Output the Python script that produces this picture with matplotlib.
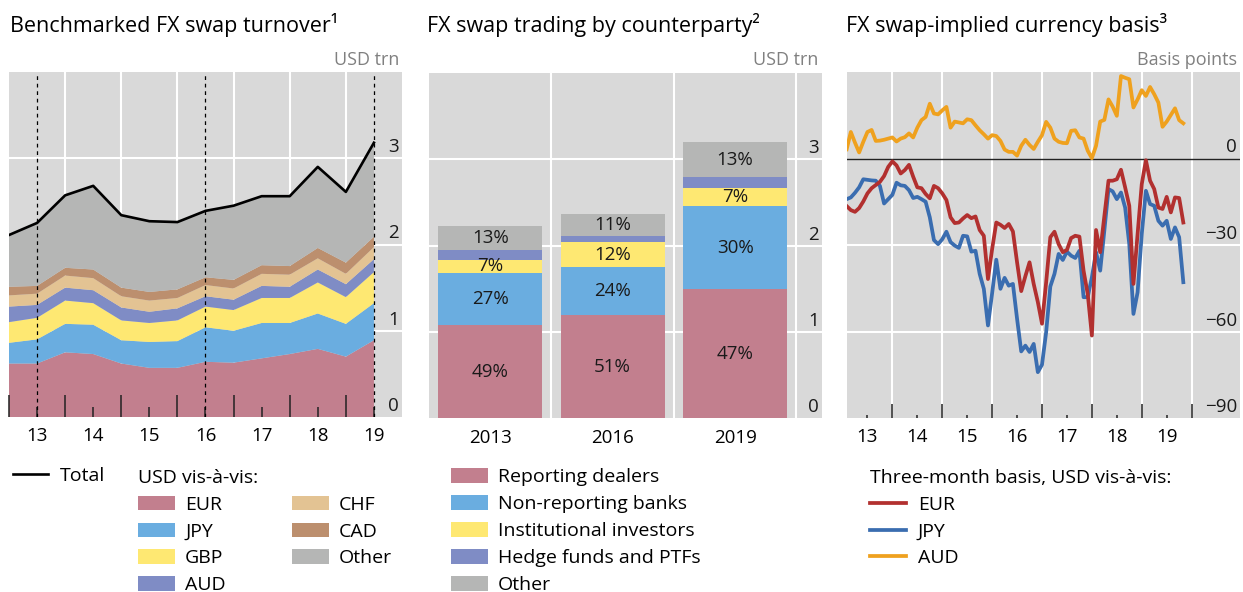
import numpy as np
import pandas as pd
import matplotlib
matplotlib.use("Agg")
import matplotlib.pyplot as plt
import matplotlib.transforms as mtransforms

plt.rcParams['font.family'] = ['Open Sans', 'DejaVu Sans']

# --- panel 1: benchmarked FX swap turnover, USD trn (semi-annual) ---
periods = [2012.5, 2013.0, 2013.5, 2014.0, 2014.5, 2015.0, 2015.5,
           2016.0, 2016.5, 2017.0, 2017.5, 2018.0, 2018.5, 2019.0]
eur = [0.62, 0.62, 0.75, 0.73, 0.62, 0.57, 0.57, 0.64, 0.63, 0.68, 0.73, 0.79, 0.70, 0.89]
jpy = [0.24, 0.28, 0.33, 0.34, 0.27, 0.30, 0.31, 0.40, 0.37, 0.41, 0.36, 0.41, 0.38, 0.43]
gbp = [0.24, 0.25, 0.27, 0.25, 0.23, 0.22, 0.24, 0.24, 0.24, 0.29, 0.29, 0.36, 0.31, 0.36]
aud = [0.18, 0.15, 0.15, 0.15, 0.15, 0.13, 0.14, 0.12, 0.12, 0.14, 0.13, 0.15, 0.15, 0.15]
chf = [0.13, 0.13, 0.14, 0.14, 0.13, 0.13, 0.12, 0.13, 0.13, 0.14, 0.14, 0.13, 0.12, 0.14]
cad = [0.10, 0.09, 0.09, 0.10, 0.10, 0.10, 0.10, 0.09, 0.10, 0.10, 0.10, 0.12, 0.13, 0.12]
other = [0.60, 0.73, 0.84, 0.97, 0.84, 0.82, 0.78, 0.77, 0.86, 0.80, 0.81, 0.94, 0.82, 1.09]
year_ticks = [2013, 2014, 2015, 2016, 2017, 2018, 2019]
year_labels = ['13', '14', '15', '16', '17', '18', '19']

# --- panel 2: FX swap trading by counterparty, USD trn ---
surveys = ['2013', '2016', '2019']
dealers = [1.075, 1.19, 1.49]
nonrep = [0.61, 0.565, 0.97]
inst = [0.15, 0.28, 0.21]
hedge = [0.11, 0.07, 0.125]
other_cp = [0.285, 0.265, 0.40]
dealers_pct = ['49%', '51%', '47%']
nonrep_pct = ['27%', '24%', '30%']
inst_pct = ['7%', '12%', '7%']
hedge_pct = ['', '', '']
other_pct = ['13%', '11%', '13%']

# --- panel 3: three-month basis, bp (monthly, Feb 2013 - Nov 2019) ---
months = pd.date_range('2013-02-01', '2019-11-01', freq='MS')
eur_basis = [-16.5, -17.9, -18.5, -17.2, -14.9, -12.1, -10.3, -9.2, -8.1, -6.1,
             -2.9, -1.0, -2.4, -5.2, -4.0, -2.2, -6.3, -10.0, -10.3, -12.3,
             -13.8, -9.5, -10.3, -12.1, -14.4, -20.4, -22.4, -22.2, -20.8, -19.6,
             -20.7, -20.1, -24.8, -26.8, -41.8, -31.4, -22.2, -23.0, -24.1, -22.7,
             -25.3, -36.0, -46.0, -40.8, -36.0, -43.5, -49.8, -57.3, -42.9, -27.3,
             -25.4, -29.7, -32.5, -31.7, -27.6, -26.8, -27.1, -38.9, -47.0, -61.4,
             -24.8, -32.5, -20.0, -7.7, -7.7, -7.2, -3.9, -10.0, -16.4, -43.5,
             -26.2, -8.9, -0.6, -7.7, -10.6, -17.0, -17.5, -13.3, -18.7, -13.5,
             -13.7, -22.2]
jpy_basis = [-14.1, -13.5, -11.9, -10.0, -7.2, -7.4, -7.6, -7.7, -9.5, -15.6,
             -14.1, -12.6, -8.4, -9.3, -9.5, -11.0, -13.7, -13.3, -14.1, -15.0,
             -20.4, -28.3, -29.7, -28.0, -25.4, -29.0, -30.2, -31.0, -26.8, -27.0,
             -32.3, -32.0, -40.0, -45.2, -57.9, -46.7, -35.1, -45.2, -41.4, -44.1,
             -43.5, -55.6, -66.9, -64.9, -67.1, -64.3, -74.1, -71.5, -60.2, -44.4,
             -40.0, -33.1, -35.2, -32.3, -33.7, -34.5, -32.0, -48.1, -48.1, -41.2,
             -32.5, -38.9, -25.0, -10.6, -11.4, -14.1, -11.8, -17.0, -29.7, -53.9,
             -46.4, -26.2, -11.2, -15.8, -16.4, -21.6, -23.3, -21.6, -27.9, -23.9,
             -27.3, -42.9]
aud_basis = [3.2, 9.2, 5.5, 2.1, 5.8, 9.2, 9.9, 6.1, 6.2, 6.5,
             6.9, 7.3, 5.9, 6.9, 7.4, 8.7, 7.3, 10.7, 13.3, 14.4,
             19.0, 15.6, 15.3, 16.7, 17.9, 10.7, 12.8, 12.5, 12.2, 13.6,
             13.3, 11.5, 9.8, 8.4, 6.9, 8.1, 7.8, 6.1, 3.1, 2.3,
             2.3, 1.0, 4.4, 6.5, 4.7, 3.3, 5.8, 8.1, 12.7, 10.7,
             6.9, 5.8, 5.4, 5.3, 9.6, 9.8, 7.3, 6.9, 2.7, 0.1,
             4.4, 12.8, 13.4, 20.5, 18.0, 14.8, 28.6, 28.0, 27.5, 17.7,
             20.5, 23.7, 21.7, 24.8, 22.3, 19.4, 11.0, 12.8, 15.1, 17.4,
             13.3, 12.2]
basis_ticks = [2013.5, 2014.5, 2015.5, 2016.5, 2017.5, 2018.5, 2019.5]

bg = '#D9D9D9'
c_pink = '#C27F8E'
c_blue = '#6AADE0'
c_yellow = '#FEE872'
c_purple = '#7F8CC5'
c_tan = '#E3C393'
c_brown = '#BC8F6E'
c_grey = '#B5B6B5'
fs = 13.5
lfs = 14

W, H = 1243, 592
fig = plt.figure(figsize=(W / 100, H / 100), dpi=100)


def px_axes(x0, y0, x1, y1):
    ax = fig.add_axes([x0 / W, 1 - y1 / H, (x1 - x0) / W, (y1 - y0) / H])
    ax.set_facecolor(bg)
    for s in ax.spines.values():
        s.set_visible(False)
    return ax


def right_labels(ax, vals, texts):
    tr = mtransforms.blended_transform_factory(ax.transAxes, ax.transData)
    tr = mtransforms.offset_copy(tr, fig=fig, x=0, y=2, units='dots')
    for v, t in zip(vals, texts):
        ax.text(0.992, v, t, transform=tr, ha='right', va='bottom', fontsize=fs, color='#1a1a1a')


ax1 = px_axes(9, 72, 402, 417)
ax2 = px_axes(429, 73, 822, 418)
ax3 = px_axes(847, 72, 1240, 418)

# titles and units
fig.text(10 / W, 1 - 25 / H, 'Benchmarked FX swap turnover\u00b9', fontsize=15.5, va='center')
fig.text(427 / W, 1 - 25 / H, 'FX swap trading by counterparty\u00b2', fontsize=15.5, va='center')
fig.text(846 / W, 1 - 25 / H, 'FX swap-implied currency basis\u00b3', fontsize=15.5, va='center')
fig.text(399 / W, 1 - 60 / H, 'USD trn', ha='right', va='center', fontsize=13, color='#808080')
fig.text(818 / W, 1 - 60 / H, 'USD trn', ha='right', va='center', fontsize=13, color='#808080')
fig.text(1237 / W, 1 - 60 / H, 'Basis points', ha='right', va='center', fontsize=13, color='#808080')

# panel 1
for x in [2013.5, 2014.5, 2015.5, 2016.5, 2017.5, 2018.5]:
    ax1.axvline(x, color='white', lw=1.5, zorder=0.5)
for y in [1, 2, 3]:
    ax1.axhline(y, color='white', lw=1.5, zorder=0.5)
areas = ax1.stackplot(periods, eur, jpy, gbp, aud, chf, cad, other,
                      colors=[c_pink, c_blue, c_yellow, c_purple, c_tan, c_brown, c_grey],
                      labels=['EUR', 'JPY', 'GBP', 'AUD', 'CHF', 'CAD', 'Other'],
                      linewidth=0, zorder=1)
total = np.sum([eur, jpy, gbp, aud, chf, cad, other], axis=0)
tot_line, = ax1.plot(periods, total, color='black', lw=1.9, zorder=3, label='Total')
for x in [2013, 2016, 2019]:
    ax1.axvline(x, color='black', lw=0.9, ls=(0, (3, 3)), zorder=4)
ax1.set_xlim(2012.5, 2019.5)
ax1.set_ylim(0, 4)
ax1.set_xticks(year_ticks)
ax1.set_xticklabels(year_labels)
ax1.set_xticks([2012.5, 2013.5, 2014.5, 2015.5, 2016.5, 2017.5, 2018.5], minor=True)
ax1.tick_params(axis='x', which='major', direction='in', length=7, width=1.1, color='#222222',
                labelsize=fs, pad=7)
ax1.tick_params(axis='x', which='minor', direction='in', length=15.5, width=1.1, color='#222222')
ax1.set_yticks([])
right_labels(ax1, [0, 1, 2, 3], ['0', '1', '2', '3'])

# panel 2
xpos = np.arange(len(surveys))
for x in [0.5, 1.5, 2.5]:
    ax2.axvline(x, color='white', lw=1.5, zorder=0.5)
for y in [1, 2, 3]:
    ax2.axhline(y, color='white', lw=1.5, zorder=0.5)
bottom = np.zeros(len(surveys))
bars = []
for vals, col, lab, pct in [(dealers, c_pink, 'Reporting dealers', dealers_pct),
                            (nonrep, c_blue, 'Non-reporting banks', nonrep_pct),
                            (inst, c_yellow, 'Institutional investors', inst_pct),
                            (hedge, c_purple, 'Hedge funds and PTFs', hedge_pct),
                            (other_cp, c_grey, 'Other', other_pct)]:
    b = ax2.bar(xpos, vals, 0.85, bottom=bottom, color=col, label=lab, zorder=2)
    ax2.bar_label(b, labels=pct, label_type='center', fontsize=fs, color='#1a1a1a')
    bars.append(b)
    bottom = bottom + np.array(vals)
ax2.set_xlim(-0.5, 2.71)
ax2.set_ylim(0, 4)
ax2.set_xticks(xpos)
ax2.set_xticklabels(surveys)
ax2.tick_params(axis='x', length=0, labelsize=fs, pad=8)
ax2.set_yticks([])
right_labels(ax2, [0, 1, 2, 3], ['0', '1', '2', '3'])

# panel 3
for x in [2014, 2015, 2016, 2017, 2018, 2019, 2020]:
    ax3.axvline(x, color='white', lw=1.5, zorder=0.5)
for y in [-60, -30]:
    ax3.axhline(y, color='white', lw=1.5, zorder=0.5)
ax3.axhline(0, color='#222222', lw=1.0, zorder=1)
xm = months.year + (months.month - 1) / 12
l_aud, = ax3.plot(xm, aud_basis, color='#EFA11E', lw=2.7, label='AUD', zorder=2)
l_jpy, = ax3.plot(xm, jpy_basis, color='#3A6DB0', lw=2.7, label='JPY', zorder=3)
l_eur, = ax3.plot(xm, eur_basis, color='#B2302F', lw=2.7, label='EUR', zorder=4)
ax3.set_xlim(2013.09, 2020.97)
ax3.set_ylim(-90, 30)
ax3.set_xticks(basis_ticks)
ax3.set_xticklabels(year_labels)
ax3.set_xticks([2014, 2015, 2016, 2017, 2018, 2019, 2020], minor=True)
ax3.tick_params(axis='x', which='major', direction='in', length=2.5, width=1.1, color='#222222',
                labelsize=fs, pad=7)
ax3.tick_params(axis='x', which='minor', direction='in', length=10, width=1.1, color='#222222')
ax3.set_yticks([])
right_labels(ax3, [0, -30, -60, -90], ['0', '\u221230', '\u221260', '\u221290'])

# legends
leg_kw = dict(frameon=False, fontsize=lfs, borderpad=0, borderaxespad=0, loc='upper left')
fig.legend(handles=[tot_line], labels=['Total'], bbox_to_anchor=(13 / W, 1 - 467 / H),
           handlelength=1.8, handletextpad=0.62, **leg_kw)
fig.legend(handles=areas, ncol=2, title='USD vis-à-vis:', title_fontsize=lfs, alignment='left',
           bbox_to_anchor=(138 / W, 1 - 469 / H), handlelength=1.9, handleheight=0.78,
           handletextpad=0.52, columnspacing=3.4, labelspacing=0.45, **leg_kw)
fig.legend(handles=[b.patches[0] for b in bars],
           labels=['Reporting dealers', 'Non-reporting banks', 'Institutional investors',
                   'Hedge funds and PTFs', 'Other'],
           bbox_to_anchor=(451 / W, 1 - 468 / H), handlelength=1.9, handleheight=0.78,
           handletextpad=0.52, labelspacing=0.46, **leg_kw)
fig.legend(handles=[l_eur, l_jpy, l_aud], title='Three-month basis, USD vis-à-vis:',
           title_fontsize=lfs, alignment='left', bbox_to_anchor=(870 / W, 1 - 469 / H),
           handlelength=1.85, handletextpad=0.6, labelspacing=0.45, **leg_kw)

fig.savefig('out.png', dpi=100)
